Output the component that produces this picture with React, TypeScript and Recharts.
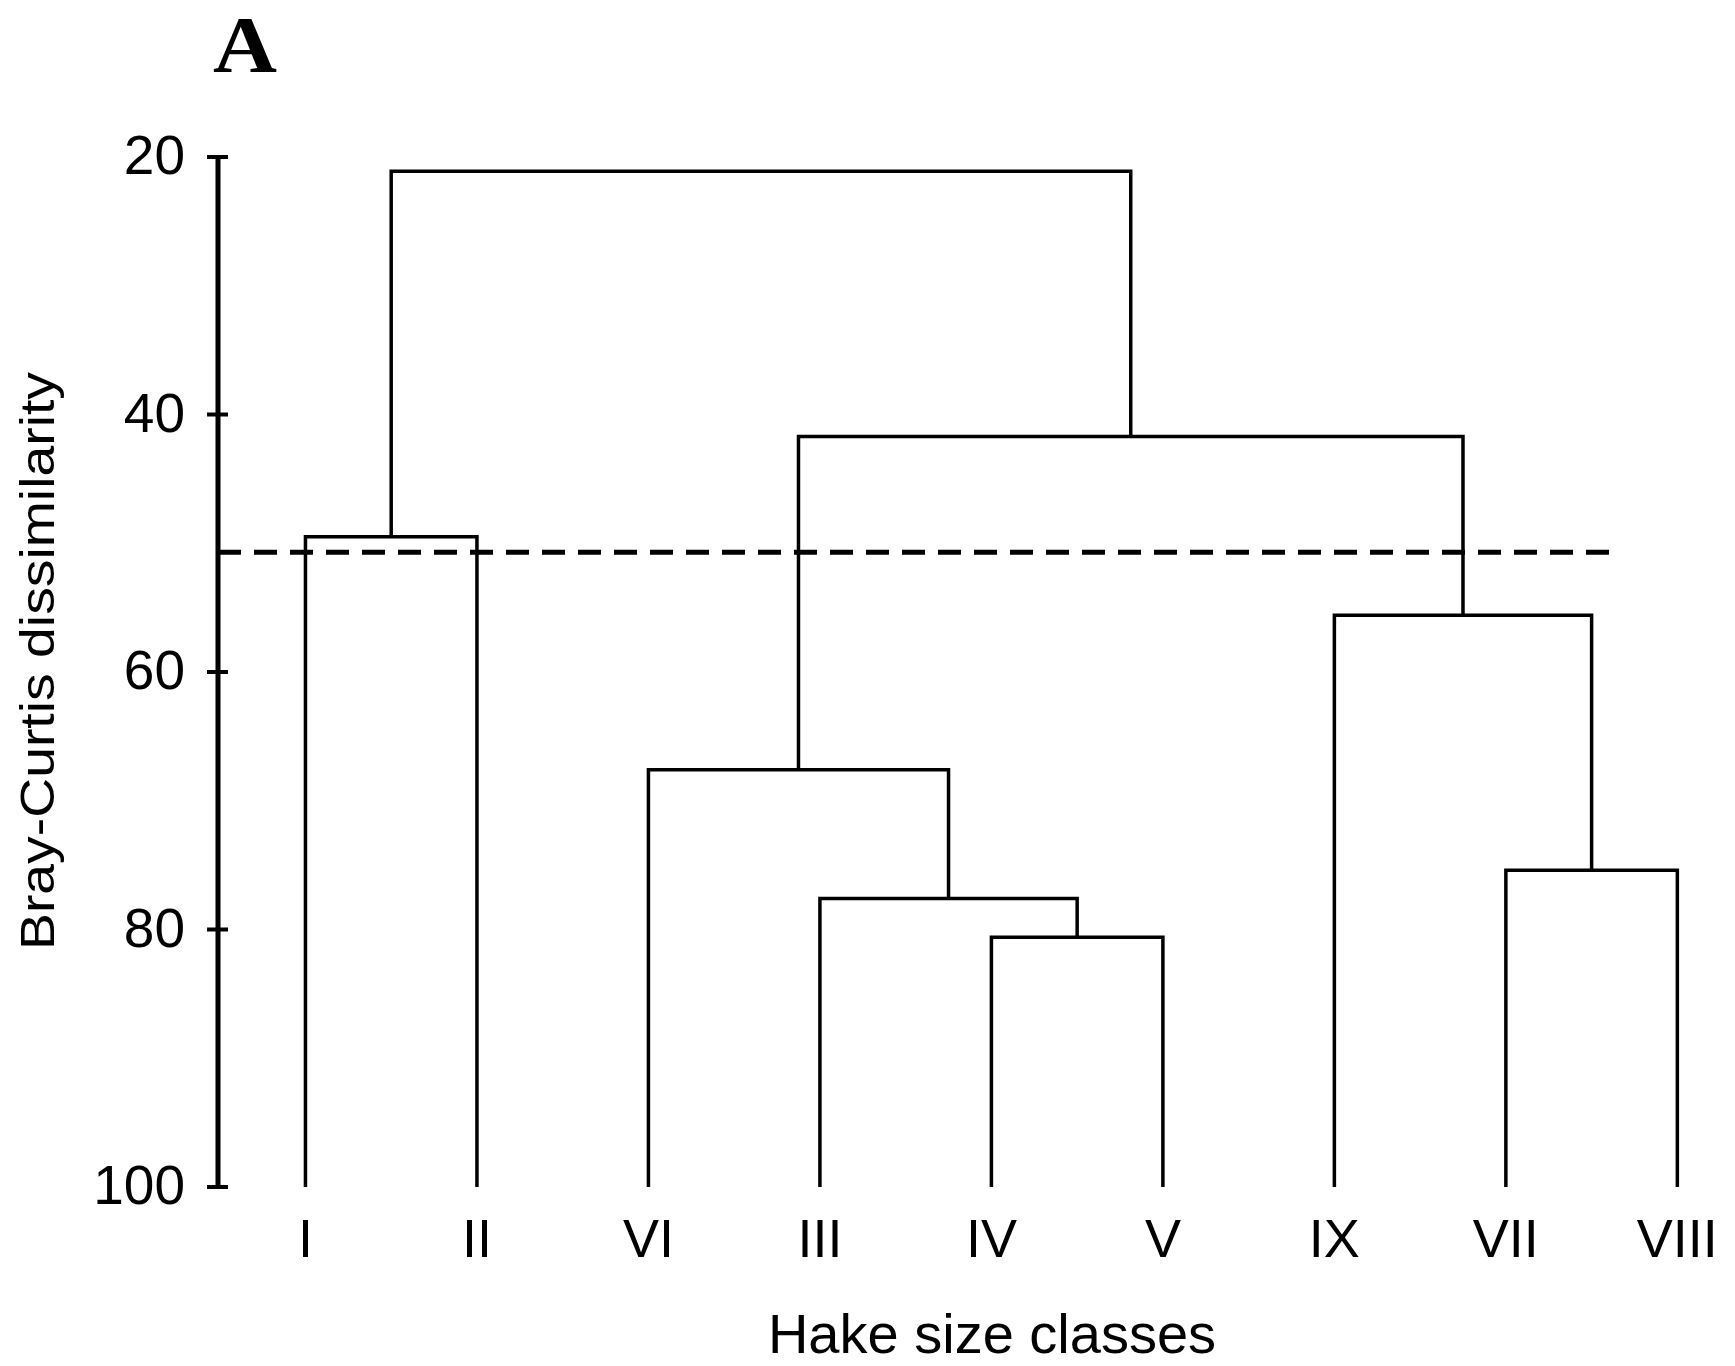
import React from 'react';
import { LineChart, Line, XAxis, YAxis, Customized } from 'recharts';

// leaf order along the x axis
const leafLabels = ['I', 'II', 'VI', 'III', 'IV', 'V', 'IX', 'VII', 'VIII'];

// merges: node ids < 9 are leaves, id 9 + k is merge k
const mergeLeft = [4, 3, 2, 7, 6, 0, 11, 14];
const mergeRight = [5, 9, 10, 8, 12, 1, 13, 15];
const mergeHeight = [80.6, 77.6, 67.6, 75.4, 55.6, 49.5, 41.7, 21.1];

const yTicks = [20, 40, 60, 80, 100];
const xTicks = [0, 1, 2, 3, 4, 5, 6, 7, 8];

// dashed cut-off level and where it stops (in leaf-index units)
const cutoffLevel = 50.7;
const cutoffEnd = 7.67;

const X_MIN = -0.51;
const X_MAX = 8.1;
const FONT = '"Liberation Sans", Arial, Helvetica, sans-serif';

// build the U-shaped links of the dendrogram
const nodeX: number[] = leafLabels.map((_, i) => i);
const nodeY: number[] = leafLabels.map(() => 100);
const links = mergeHeight.map((h, k) => {
  const l = mergeLeft[k];
  const r = mergeRight[k];
  nodeX.push((nodeX[l] + nodeX[r]) / 2);
  nodeY.push(h);
  return [
    { x: nodeX[l], y: nodeY[l] },
    { x: nodeX[l], y: h },
    { x: nodeX[r], y: h },
    { x: nodeX[r], y: nodeY[r] },
  ];
});

const cutoffData = [
  { x: X_MIN, y: cutoffLevel },
  { x: cutoffEnd, y: cutoffLevel },
];

const YTick = (props: any) => {
  const { x, y, payload } = props;
  return (
    <g>
      <line x1={x - 11} x2={x + 10} y1={y} y2={y} stroke="#000" strokeWidth={4} />
      <text x={x - 33} y={y + 17} textAnchor="end" fontFamily={FONT} fontSize={55} fill="#000">
        {payload.value}
      </text>
    </g>
  );
};

const XTick = (props: any) => {
  const { x, y, payload } = props;
  return (
    <text x={x} y={y + 70} textAnchor="middle" fontFamily={FONT} fontSize={54} fill="#000">
      {leafLabels[payload.value]}
    </text>
  );
};

const YTitle = () => (
  <text
    x={46}
    y={653}
    transform="rotate(-90 46 653)"
    textAnchor="middle"
    fontFamily={FONT}
    fontSize={48}
    textLength={578}
    lengthAdjust="spacingAndGlyphs"
    fill="#000"
  >
    Bray-Curtis dissimilarity
  </text>
);

const XTitle = () => (
  <text x={984} y={1345} textAnchor="middle" fontFamily={FONT} fontSize={56} fill="#000">
    Hake size classes
  </text>
);

const PanelLetter = () => (
  <text
    x={205}
    y={64}
    fontFamily='"Liberation Serif", "Times New Roman", serif'
    fontWeight="bold"
    fontSize={80}
    textLength={64}
    lengthAdjust="spacingAndGlyphs"
    fill="#000"
  >
    A
  </text>
);

export default function App() {
  return (
    <div style={{ width: 1711, height: 1350, background: '#fff' }}>
      <LineChart width={1711} height={1350} margin={{ top: 149, right: 24.5, bottom: 51, left: 0 }}>
        <XAxis
          type="number"
          dataKey="x"
          domain={[X_MIN, X_MAX]}
          ticks={xTicks}
          axisLine={false}
          tickLine={false}
          tickSize={0}
          tickMargin={0}
          height={120}
          tick={<XTick />}
          interval={0}
          allowDataOverflow
        />
        <YAxis
          type="number"
          dataKey="y"
          domain={[20, 100]}
          ticks={yTicks}
          reversed
          width={210}
          axisLine={{ stroke: '#000', strokeWidth: 5 }}
          tickLine={false}
          tickSize={0}
          tickMargin={0}
          tick={<YTick />}
          interval={0}
          allowDataOverflow
        />
        {links.map((d, i) => (
          <Line
            key={`link-${i}`}
            data={d}
            dataKey="y"
            type="linear"
            stroke="#000"
            strokeWidth={3.5}
            strokeLinejoin="miter"
            dot={false}
            activeDot={false}
            isAnimationActive={false}
          />
        ))}
        <Line
          data={cutoffData}
          dataKey="y"
          type="linear"
          stroke="#000"
          strokeWidth={5}
          strokeDasharray="23 13"
          dot={false}
          activeDot={false}
          isAnimationActive={false}
        />
        <Customized component={<YTitle />} />
        <Customized component={<XTitle />} />
        <Customized component={<PanelLetter />} />
      </LineChart>
    </div>
  );
}
